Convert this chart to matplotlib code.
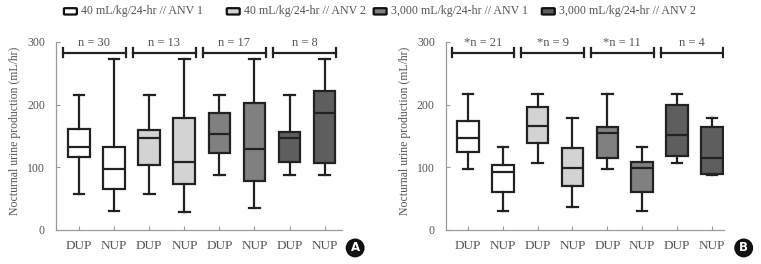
import matplotlib
matplotlib.use("Agg")
import matplotlib.pyplot as plt
from matplotlib.patches import FancyBboxPatch

plt.rcParams["font.family"] = ["Liberation Serif", "DejaVu Serif"]

# -----------------------------------------------------------------------
# Data: five-number summaries per box
# boxes go DUP, NUP for each of the four groups
# -----------------------------------------------------------------------
GROUP_LABELS = ["40 mL/kg/24-hr // ANV 1", "40 mL/kg/24-hr // ANV 2",
                "3,000 mL/kg/24-hr // ANV 1", "3,000 mL/kg/24-hr // ANV 2"]
TICK_LABELS = ["DUP", "NUP"] * 4

A_n = ["n = 30", "n = 13", "n = 17", "n = 8"]
A_low = [58, 30, 58, 29, 87, 35, 87, 87]
A_q1 = [116, 66, 104, 73, 122, 78, 109, 106]
A_med = [133, 98, 146, 108, 153, 129, 147, 187]
A_q3 = [161, 133, 160, 178, 186, 203, 156, 222]
A_high = [215, 272, 215, 272, 215, 272, 215, 272]

B_n = ["*n = 21", "*n = 9", "*n = 11", "n = 4"]
B_low = [98, 31, 106, 37, 98, 31, 106, 88]
B_q1 = [124, 60, 138, 70, 115, 60, 118, 90]
B_med = [147, 92, 166, 99, 154, 99, 151, 115]
B_q3 = [173, 104, 196, 130, 164, 108, 199, 165]
B_high = [217, 133, 217, 179, 217, 133, 217, 179]

COLORS = ["#ffffff", "#d3d3d3", "#808080", "#5e5e5e"]
AXIS_GRAY = "#9a9a9a"
TEXT_GRAY = "#555555"


def draw_panel(ax, low, q1, med, q3, high, nlabels, letter, xlim, letter_off):
    stats = []
    for i in range(len(med)):
        stats.append({"whislo": low[i], "q1": q1[i], "med": med[i],
                      "q3": q3[i], "whishi": high[i], "fliers": []})
    positions = list(range(1, len(med) + 1))
    bp = ax.bxp(stats, positions=positions, widths=0.62, patch_artist=True,
                showfliers=False,
                boxprops=dict(linewidth=1.6, edgecolor="#222222"),
                medianprops=dict(color="#222222", linewidth=1.6),
                whiskerprops=dict(color="#222222", linewidth=1.6),
                capprops=dict(color="#222222", linewidth=1.6),
                capwidths=0.3)
    for i, patch in enumerate(bp["boxes"]):
        patch.set_facecolor(COLORS[i // 2])

    # group brackets with n labels
    for g, lab in enumerate(nlabels):
        x0 = 2 * (g + 1) - 1.47
        x1 = 2 * (g + 1) + 0.33
        ax.plot([x0, x1], [283, 283], color="#222222", lw=1.6)
        ax.plot([x0, x0], [276, 290], color="#222222", lw=1.6)
        ax.plot([x1, x1], [276, 290], color="#222222", lw=1.6)
        ax.text((x0 + x1) / 2, 289, lab, ha="center", va="bottom",
                fontsize=9, color=TEXT_GRAY)

    ax.set_xlim(*xlim)
    ax.set_ylim(0, 315)
    ax.set_yticks([0, 100, 200, 300])
    ax.set_xticks(positions)
    ax.set_xticklabels(TICK_LABELS)
    ax.tick_params(axis="both", direction="in", length=3, color=AXIS_GRAY,
                   labelcolor=TEXT_GRAY)
    ax.tick_params(axis="x", labelsize=9.5, pad=7)
    ax.tick_params(axis="y", labelsize=8.5, pad=8)
    for s in ["top", "right"]:
        ax.spines[s].set_visible(False)
    for s in ["left", "bottom"]:
        ax.spines[s].set_color(AXIS_GRAY)
        ax.spines[s].set_linewidth(0.9)
    ax.spines["left"].set_bounds(0, 300)
    ax.set_ylabel("Nocturnal urine production (mL/hr)", fontsize=8.5,
                  color=TEXT_GRAY, labelpad=4)

    # panel letter in a black circle (offset given in pixels at 100 dpi)
    ax.annotate(letter, xy=(1.0, 0.0), xycoords="axes fraction",
                xytext=(letter_off[0] * 0.72, letter_off[1] * 0.72),
                textcoords="offset points",
                ha="center", va="center", fontsize=8.5, fontweight="bold",
                color="white", family="DejaVu Sans",
                bbox=dict(boxstyle="circle,pad=0.25", fc="#111111", ec="none"))


fig = plt.figure(figsize=(7.61, 2.64), dpi=100)
axA = fig.add_axes([0.0736, 0.129, 0.376, 0.748])
axB = fig.add_axes([0.586, 0.129, 0.365, 0.748])

draw_panel(axA, A_low, A_q1, A_med, A_q3, A_high, A_n, "A", (0.34, 8.5), (13, -18))
draw_panel(axB, B_low, B_q1, B_med, B_q3, B_high, B_n, "B", (0.37, 8.34), (20, -18))

# legend across the top
legend_x = [0.086, 0.300, 0.493, 0.714]
for x, lab, col in zip(legend_x, GROUP_LABELS, COLORS):
    fig.patches.append(FancyBboxPatch((x, 0.947), 0.013, 0.020,
                                      boxstyle="round,pad=0.002",
                                      transform=fig.transFigure,
                                      fc=col, ec="#111111", lw=1.6))
    fig.text(x + 0.021, 0.957, lab, ha="left", va="center",
             fontsize=8.6, color=TEXT_GRAY)

fig.savefig("out.png", dpi=100)
